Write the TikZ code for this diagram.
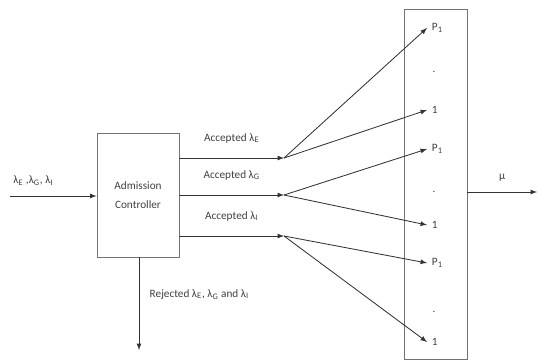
\documentclass[tikz,border=0pt]{standalone}
\usepackage{fontspec}
\setmainfont{Carlito}
\newcommand{\lam}[1]{λ\textsubscript{#1}}
\begin{document}
\begin{tikzpicture}[x=0.025cm, y=-0.025cm, >=latex,
	lbl/.style={font=\fontsize{8}{9}\selectfont, text=black!75},
	box/.style={draw=black!55, line width=0.6pt},
	flow/.style={->, draw=black!80, line width=0.6pt}]

	\useasboundingbox (0,0) rectangle (538,361);

	% Admission controller
	\node[box, lbl, minimum width=2.05cm, minimum height=3.1cm, align=center] (ctrl) at (138,195) {Admission\\[4pt]Controller};

	% Input
	\coordinate (in) at (10,196);
	\draw[flow] (in) -- node[lbl, above=4pt, pos=0.27] {\lam{E} ,\lam{G}, \lam{I}} (ctrl.west |- in);

	% Accepted flows
	\coordinate (h1) at (284,158);
	\coordinate (h2) at (284,195);
	\coordinate (h3) at (284,236);
	\draw[flow] (ctrl.east |- h1) -- node[lbl, above=7pt] {Accepted \lam{E}} (h1);
	\draw[flow] (ctrl.east |- h2) -- node[lbl, above=7pt] {Accepted \lam{G}} (h2);
	\draw[flow] (ctrl.east |- h3) -- node[lbl, above=7pt] {Accepted \lam{I}} (h3);

	% Rejected
	\coordinate (rej) at (139,350);
	\draw[flow] (ctrl.south -| rej) -- node[lbl, right=4pt, pos=0.4] {Rejected \lam{E}, \lam{G} and \lam{I}} (rej);

	% Priority stack
	\node[box, minimum width=1.575cm, minimum height=8.75cm] (stack) at (435.5,184) {};
	\node[lbl, anchor=west] (q1) at (427,28) {P\textsubscript{1}};
	\node[lbl, anchor=west] (q2) at (427,110) {1};
	\node[lbl, anchor=west] (q3) at (427,149) {P\textsubscript{1}};
	\node[lbl, anchor=west] (q4) at (427,225) {1};
	\node[lbl, anchor=west] (q5) at (427,263) {P\textsubscript{1}};
	\node[lbl, anchor=west] (q6) at (427,342) {1};
	\foreach \y in {72, 192, 312}
		\node[lbl] at (434,\y) {.};

	% Fan out
	\foreach \h/\a/\b in {1/1/2, 2/3/4, 3/5/6} {
		\draw[flow] (h\h) -- (q\a.west);
		\draw[flow] (h\h) -- (q\b.west);
	}

	% Output
	\coordinate (out) at (537,192);
	\draw[flow] (stack.east |- out) -- node[lbl, above=4pt] {µ} (out);

\end{tikzpicture}
\end{document}
